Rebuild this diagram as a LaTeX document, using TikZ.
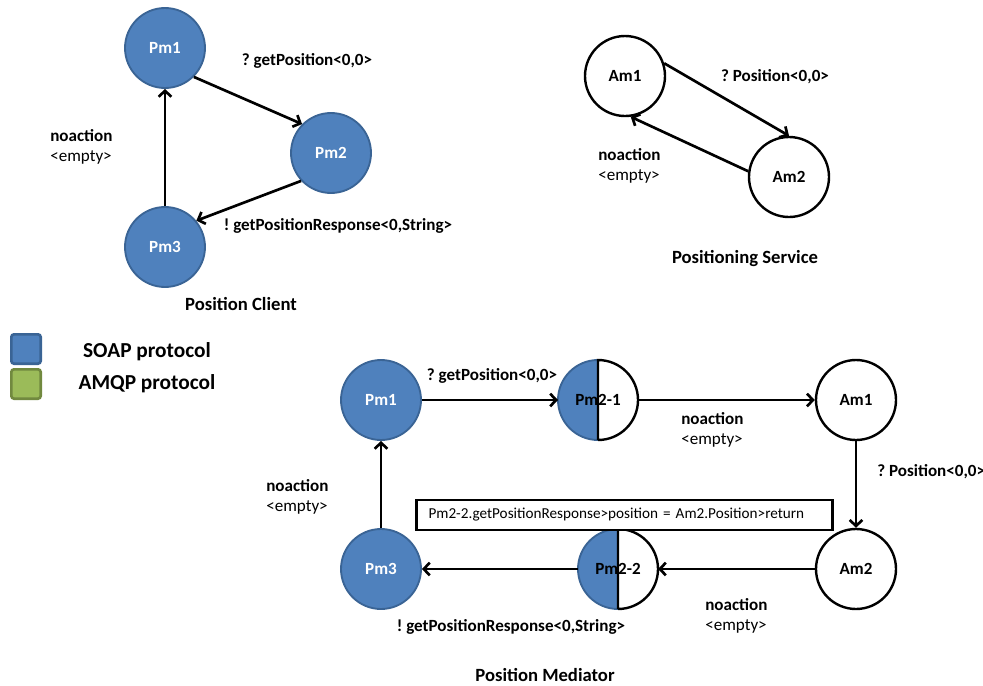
\documentclass[tikz,border=0pt]{standalone}
\usepackage{fontspec}
\setmainfont{Carlito}
\usepackage{tikz}
\usetikzlibrary{arrows.meta}
\usepackage{xcolor}
\definecolor{soapblue}{HTML}{4F81BD}
\definecolor{soapedge}{HTML}{3A6495}
\definecolor{amqpgreen}{HTML}{9BBB59}
\definecolor{amqpedge}{HTML}{71893F}
\frenchspacing

\begin{document}
\begin{tikzpicture}[
  x=0.75pt, y=-0.75pt,
  >={Straight Barb[length=4.5pt,width=9.5pt]},
  soapstate/.style={
    circle,
    fill=soapblue,
    draw=soapedge,
    line width=1.4pt,
    minimum size=60pt,
    inner sep=0pt,
    text=white,
    font=\bfseries\fontsize{12.8}{15}\selectfont
  },
  amqpstate/.style={
    circle,
    fill=white,
    draw=black,
    line width=1.8pt,
    minimum size=60pt,
    inner sep=0pt,
    font=\bfseries\fontsize{12.8}{15}\selectfont
  },
  halfstate/.style={
    circle,
    fill=white,
    minimum size=60pt,
    inner sep=0pt,
    outer sep=0pt,
    font=\bfseries\fontsize{12.8}{15}\selectfont,
    path picture={\fill[soapblue] (path picture bounding box.south west) rectangle (path picture bounding box.north);}
  },
  trans/.style={->, line width=2pt},
  msg/.style={font=\bfseries\fontsize{12.8}{15}\selectfont, inner sep=0pt},
  noact/.style={align=left, anchor=west, inner sep=0pt, font=\fontsize{12.8}{14.5}\selectfont},
  title/.style={font=\bfseries\fontsize{14}{16}\selectfont, inner sep=0pt},
  legendbox/.style={rounded corners=2pt, line width=2pt, minimum size=22pt, inner sep=0pt},
  legendtext/.style={font=\bfseries\fontsize{16}{19}\selectfont, inner sep=0pt}
]
  \useasboundingbox (0,0) rectangle (983,686);

  % Position Client
  \node[soapstate] (pcA) at (165,48) {Pm1};
  \node[soapstate] (pcB) at (331,153) {Pm2};
  \node[soapstate] (pcC) at (165,247) {Pm3};
  \draw[trans] (pcA.-45) -- (pcB.135);
  \draw[trans] (pcB.-137) -- (pcC.40);
  \draw[trans] (pcC.north) -- (pcA.south);
  \node[msg] (pcAB) at (307,61) {? getPosition<0,0>};
  \node[msg] (pcBC) at (338,226) {! getPositionResponse<0,String>};
  \node[noact] (pcCA) at (50,147) {\textbf{noaction}\\<empty>};
  \node[title] (pcTitle) at (241,304) {Position Client};

  % Positioning Service
  \node[amqpstate] (psA) at (625,76) {Am1};
  \node[amqpstate] (psB) at (789,177) {Am2};
  \draw[trans] (psA.18) -- (psB.90);
  \draw[trans] (psB.172) -- (psA.-82);
  \node[msg] (psAB) at (775,77) {? Position<0,0>};
  \node[noact] (psBA) at (598,166) {\textbf{noaction}\\<empty>};
  \node[title] (psTitle) at (745,259) {Positioning Service};

  % Legend
  \node[legendbox, fill=soapblue, draw=soapedge] (soapKey) at (26,349) {};
  \node[legendbox, fill=amqpgreen, draw=amqpedge] (amqpKey) at (26,384) {};
  \node[legendtext] (soapText) at (147,352) {SOAP protocol};
  \node[legendtext] (amqpText) at (147,384) {AMQP protocol};

  % Position Mediator
  \node[soapstate] (pmA) at (381,400) {Pm1};
  \node[halfstate] (pmBin) at (598,400) {Pm2-1};
  \draw[soapedge, line width=1.4pt] (pmBin.north) arc[start angle=90, end angle=270, radius=30pt];
  \draw[line width=1.8pt] (pmBin.south) -- (pmBin.north) arc[start angle=90, end angle=-90, radius=30pt];
  \node[amqpstate] (pmC) at (856,400) {Am1};
  \node[amqpstate] (pmD) at (856,569) {Am2};
  \node[halfstate] (pmBout) at (618,569) {Pm2-2};
  \draw[soapedge, line width=1.4pt] (pmBout.north) arc[start angle=90, end angle=270, radius=30pt];
  \draw[line width=1.8pt] (pmBout.south) -- (pmBout.north) arc[start angle=90, end angle=-90, radius=30pt];
  \node[soapstate] (pmE) at (381,569) {Pm3};

  \draw[trans] (pmA.east) -- (pmBin.west);
  \draw[trans] (pmBin.east) -- (pmC.west);
  \draw[trans] (pmC.south) -- (pmD.north);
  \draw[trans] (pmD.west) -- (pmBout.east);
  \draw[trans] (pmBout.west) -- (pmE.east);
  \draw[trans] (pmE.north) -- (pmA.south);

  \node[draw, line width=1.8pt, fill=white, minimum width=312pt, minimum height=22.5pt,
        inner xsep=9pt, text width=294pt, align=left, font=\fontsize{11.4}{13}\selectfont]
        (assign) at (624.5,515) {Pm2-2.getPositionResponse>position = Am2.Position>return};

  \node[msg] (pmAB) at (492,376) {? getPosition<0,0>};
  \node[noact] (pmBC) at (681,430) {\textbf{noaction}\\<empty>};
  \node[msg, anchor=west] (pmCD) at (877,472) {? Position<0,0>};
  \node[noact] (pmDB) at (705,616) {\textbf{noaction}\\<empty>};
  \node[msg] (pmBE) at (511,627) {! getPositionResponse<0,String>};
  \node[noact] (pmEA) at (266,497) {\textbf{noaction}\\<empty>};
  \node[title] (pmTitle) at (545,675) {Position Mediator};

\end{tikzpicture}
\end{document}
